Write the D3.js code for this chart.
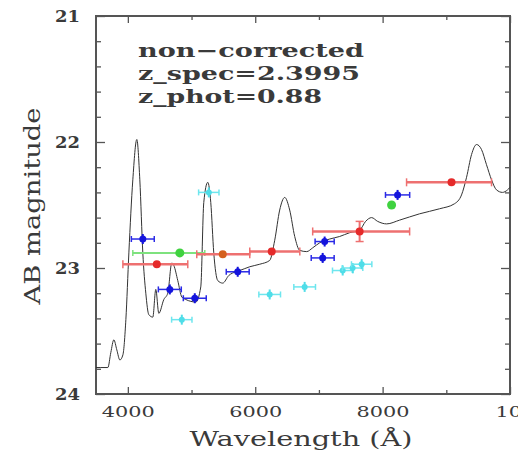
<!DOCTYPE html>
<html>
<head>
<meta charset="utf-8">
<script src="https://cdn.jsdelivr.net/npm/d3@7"></script>
<style>
  body { margin: 0; background: #fff; }
  text { font-family: "DejaVu Serif", "Liberation Serif", serif; }
</style>
</head>
<body>
<div id="chart"></div>
<script>
// model spectrum (wavelength in A, AB mag)
const specWave = [3500, 3576, 3686, 3733, 3780, 3827, 3875, 3922, 3969, 4016, 4078, 4141, 4188, 4235, 4282, 4329, 4392, 4439, 4486, 4565, 4627, 4690, 4722, 4784, 4847, 4910, 5067, 5145, 5192, 5255, 5302, 5349, 5412, 5490, 5584, 5694, 5757, 5914, 6071, 6227, 6306, 6384, 6463, 6541, 6620, 6698, 6808, 6902, 7012, 7169, 7325, 7482, 7639, 7733, 7827, 7922, 8063, 8267, 8580, 8894, 9129, 9239, 9318, 9396, 9475, 9553, 9631, 9710, 9788, 9882, 9961, 10000];
const specMag  = [23.79, 23.79, 23.79, 23.67, 23.57, 23.65, 23.73, 23.69, 23.41, 22.88, 22.30, 21.98, 22.30, 22.88, 23.20, 23.37, 23.39, 23.17, 23.36, 23.25, 23.20, 22.96, 22.98, 23.10, 23.23, 23.25, 23.27, 23.15, 22.48, 22.32, 22.48, 22.88, 23.10, 23.12, 23.06, 23.03, 23.02, 22.99, 22.97, 22.94, 22.78, 22.54, 22.44, 22.54, 22.75, 22.86, 22.87, 22.84, 22.80, 22.77, 22.75, 22.72, 22.70, 22.63, 22.60, 22.63, 22.65, 22.62, 22.57, 22.53, 22.49, 22.42, 22.28, 22.10, 22.02, 22.06, 22.18, 22.30, 22.38, 22.40, 22.38, 22.36];

// broad-band photometry (red)
const redWave = [4455, 5490, 6259, 7639, 9082];
const redMag  = [22.97, 22.89, 22.87, 22.71, 22.32];
const redLo   = [3922, 5082, 5914, 6902, 8376];
const redHi   = [4941, 5914, 6700, 8424, 9710];
const redErr  = [0, 0, 0, 0.08, 0];
const redCol  = ["#e52a2a", "#d4601e", "#e52a2a", "#e52a2a", "#e52a2a"];

// green
const greenWave = [4816, 8141];
const greenMag  = [22.88, 22.50];
const greenLo   = [4078, 8141];
const greenHi   = [5208, 8141];

// blue (intermediate bands)
const blueWave = [4235, 4659, 5051, 5725, 7090, 7059, 8235];
const blueMag  = [22.77, 23.17, 23.24, 23.03, 22.79, 22.92, 22.42];
const blueHalf = [180, 180, 180, 180, 150, 180, 190];

// cyan
const cyanWave = [5271, 4847, 6227, 6776, 7373, 7529, 7671];
const cyanMag  = [22.40, 23.41, 23.21, 23.15, 23.02, 23.00, 22.97];
const cyanHalf = [160, 160, 170, 170, 160, 160, 160];

const labels = ["non\u2212corrected", "z_spec=2.3995", "z_phot=0.88"];
const labelWidth = [226, 222, 184]; // rendered widths (the plot font is wide)

const W = 518, H = 454;
const margin = {top: 16, right: 8, bottom: 60, left: 96};

const svg = d3.select("#chart").append("svg")
  .attr("width", W).attr("height", H);

const x = d3.scaleLinear().domain([3500, 10000]).range([margin.left, W - margin.right]);
const y = d3.scaleLinear().domain([21, 24]).range([margin.top, H - margin.bottom]);

const frameCol = "#555";
const textCol = "#3a3a3a";

// axes with inward ticks
function addAxis(axis, tx, ty, cls) {
  const g = svg.append("g").attr("class", cls)
    .attr("transform", `translate(${tx},${ty})`).call(axis);
  g.select(".domain").remove();
  g.selectAll(".tick line").attr("stroke", frameCol).attr("stroke-width", 1.3);
  return g;
}
const xMajor = [4000, 6000, 8000, 10000];
const xMinor = [5000, 7000, 9000];
const yMajor = [21, 22, 23, 24];
const yMinor = d3.range(21.2, 24, 0.2).filter(v => Math.abs(v - Math.round(v)) > 0.01);

const xb = addAxis(d3.axisBottom(x).tickValues(xMajor).tickSize(-7).tickPadding(12).tickFormat(d3.format("d")), 0, y(24), "xb");
xb.selectAll("text").attr("font-size", 15).attr("fill", textCol)
  .attr("dx", d => d >= 10000 ? 18 : 0)
  .attr("textLength", d => d >= 10000 ? 66 : 53).attr("lengthAdjust", "spacingAndGlyphs");
addAxis(d3.axisBottom(x).tickValues(xMinor).tickSize(-4).tickFormat(""), 0, y(24), "xbm");
addAxis(d3.axisTop(x).tickValues(xMajor).tickSize(-7).tickFormat(""), 0, y(21), "xt");
addAxis(d3.axisTop(x).tickValues(xMinor).tickSize(-4).tickFormat(""), 0, y(21), "xtm");

const yl = addAxis(d3.axisLeft(y).tickValues(yMajor).tickSize(-9).tickPadding(16).tickFormat(d3.format("d")), x(3500), 0, "yl");
yl.selectAll("text").attr("font-size", 17).attr("font-weight", "bold").attr("fill", textCol)
  .attr("textLength", 25).attr("lengthAdjust", "spacingAndGlyphs");
addAxis(d3.axisLeft(y).tickValues(yMinor).tickSize(-5).tickFormat(""), x(3500), 0, "ylm");
addAxis(d3.axisRight(y).tickValues(yMajor).tickSize(-9).tickFormat(""), x(10000), 0, "yr");
addAxis(d3.axisRight(y).tickValues(yMinor).tickSize(-5).tickFormat(""), x(10000), 0, "yrm");

// frame
svg.append("rect")
  .attr("x", x(3500)).attr("y", y(21))
  .attr("width", x(10000) - x(3500)).attr("height", y(24) - y(21))
  .attr("fill", "none").attr("stroke", frameCol).attr("stroke-width", 2);

// spectrum
const spec = specWave.map((w, i) => [w, specMag[i]]);
svg.append("path")
  .datum(spec)
  .attr("fill", "none").attr("stroke", "#333").attr("stroke-width", 1)
  .attr("d", d3.line().x(d => x(d[0])).y(d => y(d[1])).curve(d3.curveMonotoneX));

// error-bar helper
function hbar(g, w, m, lo, hi, col, width, cap) {
  g.append("line").attr("x1", x(lo)).attr("x2", x(hi)).attr("y1", y(m)).attr("y2", y(m))
    .attr("stroke", col).attr("stroke-width", width);
  [lo, hi].forEach(v => g.append("line")
    .attr("x1", x(v)).attr("x2", x(v)).attr("y1", y(m) - cap).attr("y2", y(m) + cap)
    .attr("stroke", col).attr("stroke-width", 1.5));
}

// cyan
const cg = svg.append("g");
cyanWave.forEach((w, i) => {
  hbar(cg, w, cyanMag[i], w - cyanHalf[i], w + cyanHalf[i], "#6ee6ee", 1.5, 3);
  cg.append("line").attr("x1", x(w)).attr("x2", x(w)).attr("y1", y(cyanMag[i]) - 5).attr("y2", y(cyanMag[i]) + 5)
    .attr("stroke", "#4fdde8").attr("stroke-width", 2);
  cg.append("circle").attr("cx", x(w)).attr("cy", y(cyanMag[i])).attr("r", 3).attr("fill", "#4fdde8");
});

// green
const gg = svg.append("g");
greenWave.forEach((w, i) => {
  if (greenHi[i] > greenLo[i]) hbar(gg, w, greenMag[i], greenLo[i], greenHi[i], "#7ee27e", 2, 3);
  gg.append("circle").attr("cx", x(w)).attr("cy", y(greenMag[i])).attr("r", 4.5).attr("fill", "#3fd23f");
});

// red
const rg = svg.append("g");
redWave.forEach((w, i) => {
  hbar(rg, w, redMag[i], redLo[i], redHi[i], "#ee7070", 2.5, 4);
  if (redErr[i] > 0) {
    rg.append("line").attr("x1", x(w)).attr("x2", x(w))
      .attr("y1", y(redMag[i] - redErr[i])).attr("y2", y(redMag[i] + redErr[i]))
      .attr("stroke", "#ee7070").attr("stroke-width", 2);
    [-1, 1].forEach(s => rg.append("line")
      .attr("x1", x(w) - 4).attr("x2", x(w) + 4)
      .attr("y1", y(redMag[i] + s * redErr[i])).attr("y2", y(redMag[i] + s * redErr[i]))
      .attr("stroke", "#ee7070").attr("stroke-width", 1.5));
  }
  rg.append("circle").attr("cx", x(w)).attr("cy", y(redMag[i])).attr("r", 4).attr("fill", redCol[i]);
});

// blue
const bg = svg.append("g");
blueWave.forEach((w, i) => {
  hbar(bg, w, blueMag[i], w - blueHalf[i], w + blueHalf[i], "#2a2ae6", 1.5, 3);
  bg.append("line").attr("x1", x(w)).attr("x2", x(w)).attr("y1", y(blueMag[i]) - 5).attr("y2", y(blueMag[i]) + 5)
    .attr("stroke", "#1414dc").attr("stroke-width", 2);
  bg.append("circle").attr("cx", x(w)).attr("cy", y(blueMag[i])).attr("r", 3.5).attr("fill", "#1414dc");
});

// annotation
svg.append("g").selectAll("text").data(labels).join("text")
  .attr("x", 138).attr("y", (d, i) => 57 + i * 23)
  .attr("font-size", 19).attr("font-weight", "bold").attr("fill", textCol)
  .attr("textLength", (d, i) => labelWidth[i]).attr("lengthAdjust", "spacingAndGlyphs")
  .text(d => d);

// axis titles
svg.append("text")
  .attr("x", 301).attr("y", 446).attr("text-anchor", "middle")
  .attr("font-size", 21).attr("fill", textCol)
  .attr("textLength", 223).attr("lengthAdjust", "spacingAndGlyphs")
  .text("Wavelength (\u00c5)");
svg.append("text")
  .attr("transform", `translate(40,${(y(21) + y(24)) / 2 + 1}) rotate(-90)`)
  .attr("text-anchor", "middle")
  .attr("font-size", 23).attr("fill", textCol)
  .attr("textLength", 197).attr("lengthAdjust", "spacingAndGlyphs")
  .text("AB magnitude");
</script>
</body>
</html>
